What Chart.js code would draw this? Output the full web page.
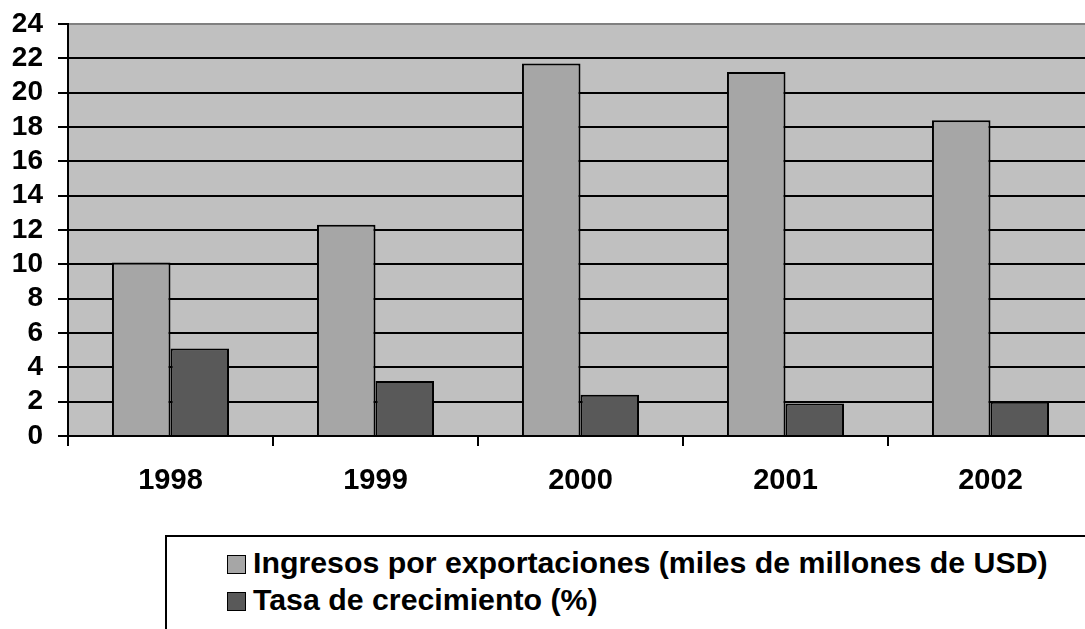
<!DOCTYPE html>
<html>
<head>
<meta charset="utf-8">
<script src="https://cdn.jsdelivr.net/npm/chart.js@4/dist/chart.umd.min.js"></script>
<style>
  html, body { margin:0; padding:0; background:#fff; overflow:hidden; width:1085px; height:629px; }
  #wrap { position:absolute; left:0; top:0; }
  #legend {
    position:absolute; left:165px; top:535px; width:1000px; height:200px;
    border:2px solid #000; box-sizing:border-box;
    font-family:'Liberation Sans', Arial, sans-serif; font-weight:bold; font-size:30.3px; color:#000;
  }
  .item { position:absolute; left:60px; height:36px; line-height:36px; white-space:nowrap; }
  .swatch { display:inline-block; width:17px; height:17px; border:1.5px solid #000; vertical-align:-1px; margin-right:7px; }
</style>
</head>
<body>
<div id="wrap"><canvas id="chart" width="1093" height="500"></canvas></div>
<div id="legend"></div>
<script>
// data
const years = ['1998', '1999', '2000', '2001', '2002'];
const ingresos = [10.1, 12.3, 21.7, 21.2, 18.4];
const tasa = [5.1, 3.2, 2.4, 1.9, 2.0];
const seriesLabels = ['Ingresos por exportaciones (miles de millones de USD)', 'Tasa de crecimiento (%)'];
const seriesColors = ['#a6a6a6', '#595959'];
const yMin = 0, yMax = 24, yStep = 2;

const FONT = "'Liberation Sans', Arial, sans-serif";

// gray plot area like the old excel charts
const plotBg = {
  id: 'plotBg',
  beforeDraw(c){
    const a = c.chartArea, ctx = c.ctx;
    ctx.save();
    ctx.fillStyle = '#c0c0c0';
    ctx.fillRect(a.left, a.top, a.right - a.left, a.bottom - a.top);
    ctx.restore();
  }
};

const chart = new Chart(document.getElementById('chart'), {
  type: 'bar',
  data: {
    labels: years,
    datasets: [
      { label: seriesLabels[0], data: ingresos, backgroundColor: seriesColors[0], borderColor: '#000', borderWidth: 2 },
      { label: seriesLabels[1], data: tasa, backgroundColor: seriesColors[1], borderColor: '#000', borderWidth: 2 }
    ]
  },
  options: {
    responsive: false,
    animation: false,
    datasets: { bar: { categoryPercentage: 0.571, barPercentage: 1 } },
    layout: { padding: { top: 24, left: 0, right: 0, bottom: 0 } },
    plugins: { legend: { display: false }, tooltip: { enabled: false } },
    scales: {
      x: {
        grid: { offset: true, drawOnChartArea: false, drawTicks: true, tickLength: 10, color: '#000', lineWidth: 2 },
        border: { color: '#000', width: 2 },
        ticks: { color: '#000', padding: 18, font: { family: FONT, size: 29, weight: 'bold' } },
        afterFit(s){ s.height = 64; s.paddingLeft = 0; s.paddingRight = 0; }
      },
      y: {
        min: yMin, max: yMax,
        grid: {
          color: ctx => (ctx.tick && ctx.tick.value === yMax) ? '#808080' : '#000',
          tickColor: '#000', lineWidth: 2, tickLength: 10
        },
        border: { color: '#000', width: 2 },
        ticks: { stepSize: yStep, autoSkip: false, color: '#000', padding: 15, font: { family: FONT, size: 28, weight: 'bold' } },
        afterFit(s){ s.width = 68; s.paddingTop = 0; s.paddingBottom = 0; }
      }
    }
  },
  plugins: [plotBg]
});

// legend box under the chart
const legendEl = document.getElementById('legend');
chart.data.datasets.forEach((ds, i) => {
  const row = document.createElement('div');
  row.className = 'item';
  row.style.top = (8 + i * 37) + 'px';
  row.innerHTML = '<span class="swatch" style="background:' + ds.backgroundColor + '"></span>' + ds.label;
  legendEl.appendChild(row);
});
</script>
</body>
</html>
